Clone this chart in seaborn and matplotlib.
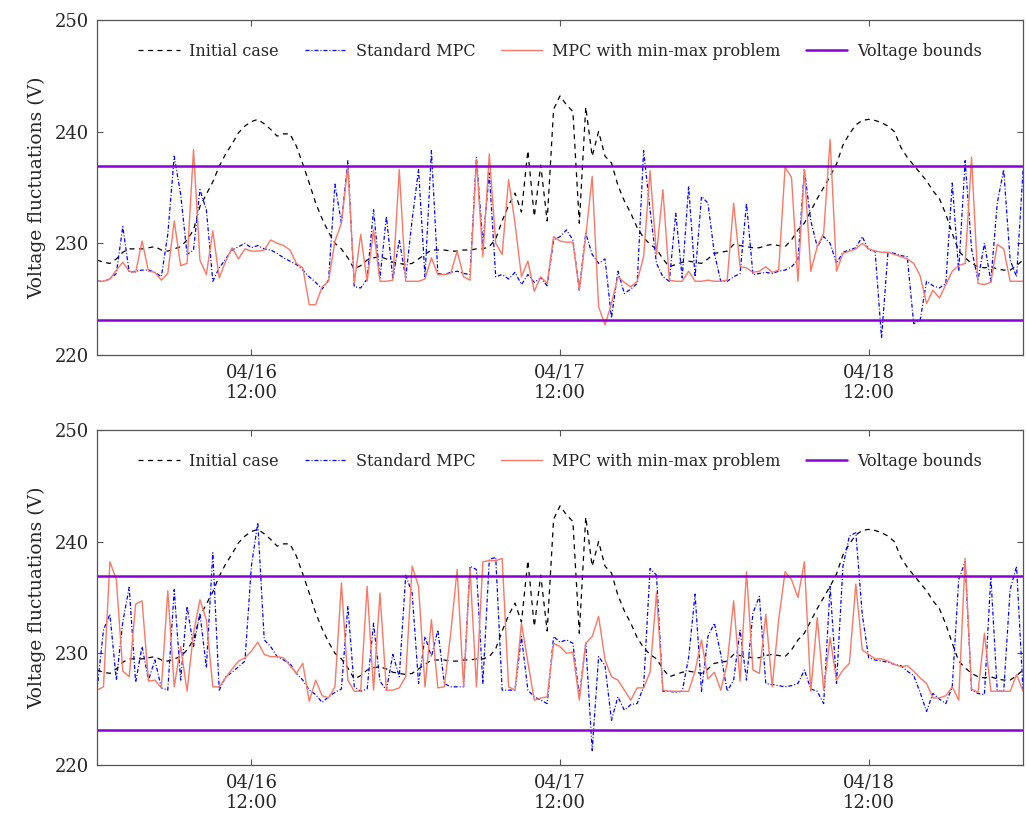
import numpy as np
import pandas as pd
import matplotlib
matplotlib.use("Agg")
import matplotlib.pyplot as plt
import matplotlib.dates as mdates
import seaborn as sns

# ---------------- data (30-minute samples, 04/16 00:00 -> 04/19 00:00) ----------------
start_time = "2021-04-16 00:00"
sample_step = "30min"

initial_case = [
    228.5, 228.3, 228.2, 228.6, 229.2, 229.5, 229.5, 229.5, 229.6, 229.7,
    229.4, 229.3, 229.5, 229.7, 230.3, 231.2, 233.3, 234.4, 235.5, 236.9,
    238.0, 238.9, 239.9, 240.5, 240.9, 241.1, 240.7, 240.2, 239.6, 239.8,
    239.8, 238.7, 237.1, 235.4, 233.6, 232.2, 231.0, 230.0, 229.5, 228.7,
    227.7, 228.0, 228.5, 228.7, 228.8, 228.6, 228.3, 228.2, 228.1, 228.2,
    228.6, 229.0, 229.4, 229.4, 229.4, 229.3, 229.3, 229.4, 229.4, 229.5,
    229.5, 229.7, 230.4, 232.0, 233.4, 234.5, 232.8, 238.3, 232.4, 237.0,
    232.0, 242.0, 243.2, 242.4, 241.8, 231.8, 242.2, 237.8, 240.0, 237.8,
    237.2, 235.2, 233.8, 232.7, 231.4, 230.5, 229.9, 229.5, 228.6, 227.9,
    228.1, 228.3, 228.4, 228.3, 228.2, 228.6, 229.1, 229.2, 229.3, 229.9,
    229.8, 229.7, 229.6, 229.6, 229.8, 229.9, 229.8, 229.7, 230.3, 231.2,
    231.8, 232.9, 234.0, 235.0, 236.0, 237.1, 238.8, 239.8, 240.6, 241.0,
    241.1, 241.0, 240.8, 240.5, 240.0, 238.6, 237.7, 237.0, 236.3, 235.6,
    234.7, 234.0, 232.6, 230.9, 229.3, 228.7, 228.2, 227.9, 227.8, 227.9,
    227.7, 227.6, 227.6, 228.0, 228.5,
]

standard_mpc_top = [
    226.6, 226.6, 226.8, 227.3, 231.5, 227.4, 227.5, 227.6, 227.6, 227.4,
    227.0, 230.8, 237.8, 234.4, 229.0, 229.4, 234.8, 233.0, 226.6, 227.8,
    228.6, 229.4, 229.7, 230.0, 229.6, 229.8, 229.5, 229.4, 229.1, 228.7,
    228.4, 228.1, 227.6, 227.0, 226.5, 225.9, 226.7, 235.3, 231.8, 237.4,
    226.1, 226.0, 226.8, 233.0, 226.9, 232.4, 226.8, 230.3, 226.9,
    232.1, 236.6, 227.0, 238.3, 227.3, 227.2, 227.4, 227.5, 227.3, 227.2,
    237.7, 230.0, 236.3, 227.0, 227.2, 226.8, 227.4, 226.3, 227.2, 226.5,
    226.9, 226.2, 230.3, 230.6, 231.2, 230.3, 225.8, 230.9, 229.0, 228.2,
    228.6, 223.3, 227.5, 225.5, 225.9, 226.4, 238.3, 233.0, 228.2, 227.0,
    226.6, 232.7, 226.9, 235.1, 227.0, 234.2, 233.6, 229.1,
    226.6, 226.6, 227.0, 227.3, 233.6, 227.2, 227.3, 227.4, 227.3, 227.5,
    227.6, 227.9, 228.5, 236.6, 232.0, 229.7, 230.6, 230.0, 228.2, 229.2,
    229.4, 229.6, 230.6, 229.4, 229.3, 221.5, 229.2, 229.1, 228.9, 228.8,
    222.8, 223.1, 226.6, 226.2, 226.0, 226.4, 235.4, 227.5, 237.4, 229.5,
    226.7, 230.0, 226.6, 233.6, 236.6, 228.5, 227.0, 236.5,
]

minmax_mpc_top = [
    226.6, 226.6, 226.8, 227.6, 228.3, 227.5, 227.4, 230.2, 227.5, 227.4,
    226.7, 227.3, 232.0, 228.0, 228.2, 238.4, 228.5, 227.2, 231.1, 226.9,
    228.4, 229.6, 228.6, 229.5, 229.3, 229.3, 229.4, 230.3, 230.0, 229.8,
    229.4, 228.2, 227.8, 224.5, 224.5, 226.1, 226.6, 230.2, 231.8, 236.9,
    226.4, 230.8, 226.6, 231.2, 226.6, 226.6, 226.7, 236.6, 226.6,
    226.6, 226.6, 226.8, 228.7, 227.2, 227.2, 227.3, 229.3, 227.0, 226.7,
    237.5, 228.8, 238.0, 230.0, 229.0, 235.7, 231.8, 227.0, 228.4, 225.7,
    227.0, 226.4, 230.6, 230.2, 230.1, 230.1, 225.8, 230.6, 236.0, 224.3,
    222.7, 224.6, 227.0, 226.5, 226.1, 226.6, 228.8, 236.5, 229.0, 234.8,
    226.7, 226.6, 226.6, 227.5, 226.6, 226.6, 226.7, 226.6,
    226.6, 226.7, 233.6, 227.9, 227.8, 227.4, 227.5, 227.9, 227.4, 227.6,
    236.8, 235.9, 226.6, 236.6, 227.5, 229.7, 230.9, 239.3, 227.5, 229.1,
    229.3, 229.5, 230.0, 229.5, 229.3, 229.2, 229.2, 229.0, 228.8, 228.6,
    228.2, 227.1, 224.6, 225.8, 225.1, 226.3, 227.5, 228.0, 228.2, 237.7,
    226.4, 226.3, 226.5, 229.9, 229.5, 226.6, 226.6, 226.6,
]

standard_mpc_bottom = [
    226.7, 232.1, 233.5, 227.6, 232.8, 235.9, 227.4, 230.6, 227.6, 229.4,
    226.9, 226.7, 235.7, 227.6, 234.2, 230.6, 233.6, 228.7, 239.0, 226.7,
    227.9, 228.3, 228.8, 229.3, 237.8, 241.7, 231.2, 230.6, 229.7, 229.4,
    229.1, 228.2, 227.6, 226.7, 226.3, 225.6, 226.1, 226.5, 226.8, 234.2,
    227.0, 226.6, 226.8, 232.7, 227.5, 226.7, 229.9, 227.9, 237.0,
    235.4, 227.3, 231.5, 229.7, 232.1, 227.3, 227.0, 227.0, 227.0, 237.8,
    237.5, 227.3, 238.4, 238.6, 226.7, 226.7, 226.7, 231.5, 226.7, 226.1,
    225.8, 225.5, 231.5, 231.0, 231.2, 230.9, 226.1, 230.9, 221.3, 229.7,
    228.9, 224.0, 226.1, 224.9, 225.4, 225.5, 227.0, 237.6, 237.0, 226.6,
    226.6, 226.5, 226.6, 229.6, 235.3, 226.6, 231.5, 232.7,
    229.9, 226.6, 227.6, 232.1, 227.6, 233.6, 235.1, 227.3, 227.2, 227.1,
    227.0, 227.1, 227.3, 228.5, 226.8, 226.6, 225.5, 236.0, 227.3, 237.8,
    240.5, 240.8, 233.5, 229.6, 229.4, 229.3, 229.2, 229.0, 228.9, 228.4,
    228.0, 226.5, 224.8, 226.4, 225.9, 225.5, 227.0, 236.6, 238.2, 226.7,
    226.4, 226.3, 236.9, 226.6, 226.6, 235.7, 237.8, 226.7,
]

minmax_mpc_bottom = [
    226.7, 227.0, 238.2, 236.6, 228.4, 227.9, 234.4, 234.7, 227.5, 227.6,
    226.9, 235.6, 227.0, 230.6, 226.6, 231.8, 234.8, 233.0, 227.0, 227.0,
    227.8, 228.6, 229.3, 229.6, 230.2, 231.0, 229.9, 229.7, 229.7, 229.6,
    228.9, 228.2, 229.1, 225.7, 227.6, 226.2, 226.0, 227.0, 236.3, 227.6,
    226.6, 226.6, 236.0, 226.7, 235.4, 226.7, 226.7, 226.9, 227.9,
    237.8, 236.0, 227.0, 233.0, 226.9, 227.0, 231.8, 237.5, 227.0, 237.6,
    227.0, 238.2, 238.3, 238.3, 238.5, 227.0, 226.7, 232.7, 229.2, 225.8,
    226.0, 226.1, 230.9, 230.6, 230.0, 230.1, 225.8, 230.9, 231.5, 233.3,
    229.4, 227.9, 227.6, 226.7, 225.8, 226.9, 226.9, 228.3, 235.4, 226.7,
    226.6, 226.6, 226.6, 226.6, 228.4, 231.2, 227.7, 228.3,
    226.7, 229.1, 234.7, 227.5, 237.3, 228.5, 228.2, 233.5, 227.0, 233.0,
    237.3, 236.6, 235.0, 238.2, 226.6, 233.2, 226.7, 231.4, 227.6, 228.5,
    229.1, 236.2, 230.3, 229.9, 229.5, 229.5, 229.3, 229.0, 228.8, 228.9,
    228.4, 227.8, 227.3, 226.0, 226.0, 226.2, 227.0, 225.8, 238.5, 226.8,
    226.5, 231.8, 226.6, 226.6, 226.6, 226.6, 228.1, 226.6,
]

voltage_bounds = [223.1, 236.9]  # 230 V +/- 3 %
y_ticks = [220, 230, 240, 250]
x_tick_labels = ["04/16\n12:00", "04/17\n12:00", "04/18\n12:00"]
x_tick_times = ["2021-04-16 12:00", "2021-04-17 12:00", "2021-04-18 12:00"]

legend_names = ["Initial case", "Standard MPC", "MPC with min-max problem", "Voltage bounds"]

# ---------------- figure ----------------
sns.set_theme(style="ticks")
plt.rcParams["font.family"] = ["DejaVu Serif"]

times = pd.date_range(start_time, periods=len(initial_case), freq=sample_step)

fig = plt.figure(figsize=(10.27, 8.19), dpi=100)
ax_top = fig.add_axes([0.0945, 0.5666, 0.9016, 0.409])
ax_bot = fig.add_axes([0.0945, 0.066, 0.9016, 0.409])

c_init = "black"
c_std = "#0000ff"
c_mm = "#fa7866"
c_bound = "#8a00d6"

panels = [
    (ax_top, standard_mpc_top, minmax_mpc_top),
    (ax_bot, standard_mpc_bottom, minmax_mpc_bottom),
]

for ax, std_vals, mm_vals in panels:
    df = pd.DataFrame({
        "time": times,
        "initial": initial_case,
        "std": std_vals,
        "mm": mm_vals,
    })
    sns.lineplot(data=df, x="time", y="initial", ax=ax, color=c_init,
                 linestyle=(0, (4.0, 3.6)), linewidth=0.9, label=legend_names[0])
    sns.lineplot(data=df, x="time", y="std", ax=ax, color=c_std,
                 linestyle=(0, (3.2, 1.6, 0.8, 1.6)), linewidth=0.9, label=legend_names[1])
    sns.lineplot(data=df, x="time", y="mm", ax=ax, color=c_mm,
                 linewidth=1.0, label=legend_names[2])
    for i, b in enumerate(voltage_bounds):
        ax.axhline(b, color=c_bound, linewidth=1.8,
                   label=legend_names[3] if i == 0 else None)

    ax.set_xlim(times[0], times[-1])
    ax.set_ylim(y_ticks[0], y_ticks[-1])
    ax.set_yticks(y_ticks)
    ax.set_xticks(pd.to_datetime(x_tick_times))
    ax.set_xticklabels(x_tick_labels)
    ax.set_xlabel("")
    ax.set_ylabel("Voltage fluctuations (V)", fontsize=13.5, labelpad=6)
    ax.tick_params(axis="both", direction="in", top=True, right=True,
                   length=4, width=0.8, color="#555555", labelsize=13, pad=6)
    for sp in ax.spines.values():
        sp.set_color("#555555")
        sp.set_linewidth(0.9)
    ax.legend(loc="upper center", bbox_to_anchor=(0.5, 0.975), ncol=4,
              frameon=False, fontsize=11.5, handlelength=2.6,
              columnspacing=1.6, handletextpad=0.6)

fig.savefig("out.png", dpi=100)
